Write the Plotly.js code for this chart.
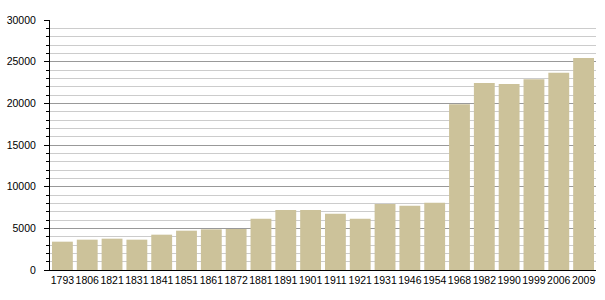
<!DOCTYPE html>
<html><head><meta charset="utf-8">
<script src="https://cdn.plot.ly/plotly-3.0.1.min.js"></script>
<style>html,body{margin:0;padding:0;background:#fff}</style>
</head><body>
<div id="chart" style="width:605px;height:300px"></div>
<script>
const years = ["1793","1806","1821","1831","1841","1851","1861","1872","1881","1891","1901","1911","1921","1931","1946","1954","1968","1982","1990","1999","2006","2009"];
const population = [3400,3640,3760,3640,4240,4720,4880,4920,6160,7200,7200,6760,6160,7920,7720,8080,19890,22440,22320,22880,23680,25440];
const yTicks = [0,5000,10000,15000,20000,25000,30000];

Plotly.newPlot('chart', [{
  type: 'bar',
  x: years,
  y: population,
  marker: {color: '#CCC29A', line: {width: 0}},
  hoverinfo: 'none'
}], {
  width: 605, height: 300,
  margin: {l: 50, r: 9, t: 20, b: 30},
  paper_bgcolor: '#fff', plot_bgcolor: '#fff',
  bargap: 0.16,
  font: {family: 'Liberation Sans, Arial, sans-serif', size: 10.5, color: '#000'},
  xaxis: {
    type: 'category', tickangle: 0, showgrid: false,
    showline: true, linecolor: '#000', linewidth: 1,
    ticks: '', tickfont: {size: 10.5}, fixedrange: true
  },
  yaxis: {
    range: [0, 30000], tickvals: yTicks, ticktext: yTicks.map(String),
    showline: true, linecolor: '#000', linewidth: 1,
    ticks: 'outside', ticklen: 5, tickcolor: '#000', tickwidth: 1,
    ticklabelstandoff: 6,
    showgrid: true, gridcolor: '#999', gridwidth: 1,
    zeroline: false,
    minor: {dtick: 1000, ticks: 'outside', ticklen: 3, tickcolor: '#000', showgrid: true, gridcolor: '#ccc', gridwidth: 1},
    tickfont: {size: 10.5}, fixedrange: true
  },
  showlegend: false
}, {displayModeBar: false, staticPlot: true});
</script>
</body></html>
